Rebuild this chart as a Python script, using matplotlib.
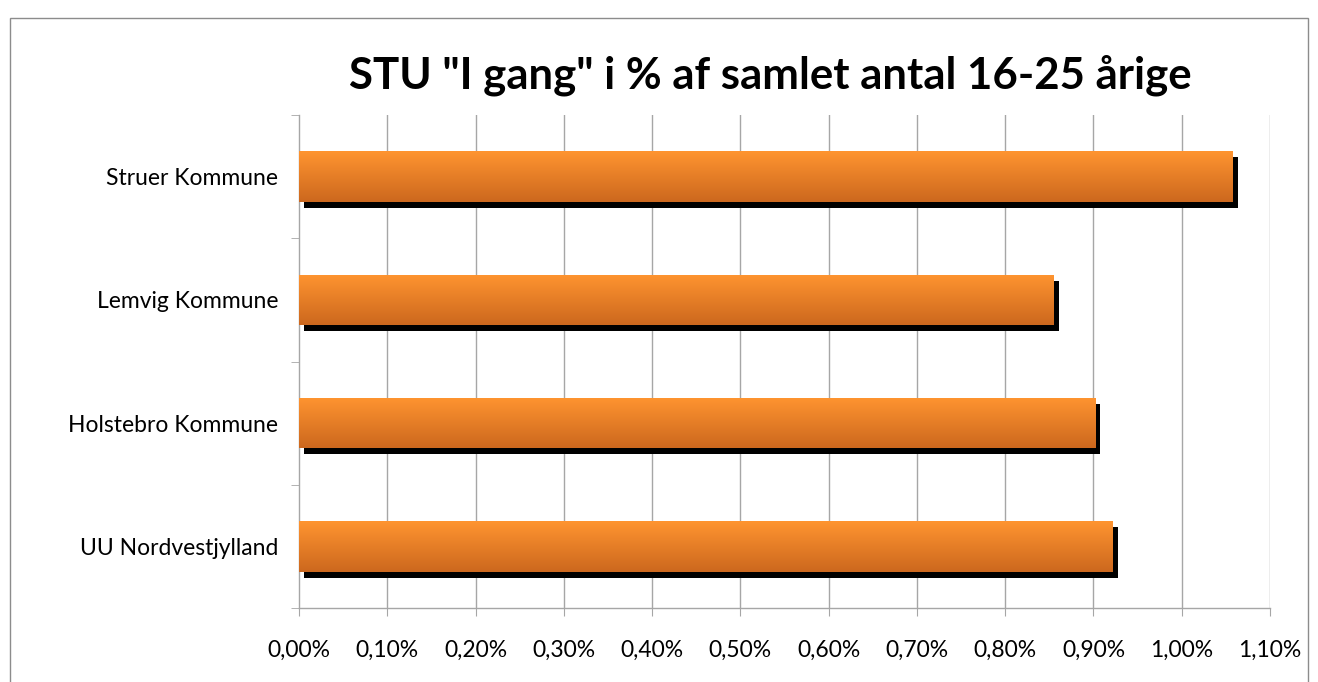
import matplotlib
matplotlib.use("Agg")
import matplotlib.pyplot as plt
import matplotlib.transforms as mtransforms
from matplotlib.patches import Rectangle
import numpy as np

# ---- data ----
categories = ["UU Nordvestjylland", "Holstebro Kommune", "Lemvig Kommune", "Struer Kommune"]
values = [0.922, 0.902, 0.855, 1.058]   # percent
xticks = [0.0, 0.1, 0.2, 0.3, 0.4, 0.5, 0.6, 0.7, 0.8, 0.9, 1.0, 1.1]
xtick_labels = ["0,00%", "0,10%", "0,20%", "0,30%", "0,40%", "0,50%",
                "0,60%", "0,70%", "0,80%", "0,90%", "1,00%", "1,10%"]
title = 'STU "I gang" i % af samlet antal 16-25 årige'

plt.rcParams['font.family'] = ['Lato', 'DejaVu Sans']

W, H = 1318, 682
fig = plt.figure(figsize=(W / 100, H / 100), dpi=100)
fig.patch.set_facecolor("white")

# outer chart border
border = Rectangle((10 / W, -0.05), (1308 - 10) / W, 1 - 18 / H + 0.05,
                   transform=fig.transFigure, fill=False, edgecolor="#8c8c8c",
                   linewidth=1.0)
fig.add_artist(border)

ax = fig.add_axes([299 / W, 1 - 608 / H, (1270 - 299) / W, (608 - 115) / H])
ax.set_xlim(0, 1.1)
ax.set_ylim(-0.5, len(categories) - 0.5)

bar_h = 0.41
ypos = np.arange(len(categories))

# gradient image
top_c = np.array([255, 148, 48]) / 255
bot_c = np.array([204, 104, 30]) / 255
t = np.linspace(0, 1, 64)[:, None]
grad = (top_c[None, :] * (1 - t) + bot_c[None, :] * t)[:, None, :]

shadow_tr = ax.transData + mtransforms.ScaledTranslation(5 / 100, -6 / 100, fig.dpi_scale_trans)

for y, v in zip(ypos, values):
    # shadow
    ax.add_patch(Rectangle((0, y - bar_h / 2), v, bar_h, facecolor="black",
                           edgecolor="none", transform=shadow_tr, zorder=2))
    # gradient bar
    im = ax.imshow(grad, extent=[0, v, y - bar_h / 2, y + bar_h / 2],
                   aspect="auto", origin="upper", zorder=3, interpolation="bilinear")
    clip = Rectangle((0, y - bar_h / 2), v, bar_h, transform=ax.transData,
                     facecolor="none", edgecolor="none")
    ax.add_patch(clip)
    im.set_clip_path(clip)

ax.set_xlim(0, 1.1)
ax.set_ylim(-0.5, len(categories) - 0.5)

# grid
for x in xticks[1:]:
    ax.axvline(x, color="#a6a6a6", linewidth=1.0, zorder=1)

ax.set_xticks(xticks)
ax.set_xticklabels(xtick_labels, fontsize=16.5)
ax.set_yticks(ypos)
ax.set_yticklabels(categories, fontsize=16.5)
ax.tick_params(axis="y", length=0, pad=15)
ax.tick_params(axis="x", length=6, color="#a6a6a6", direction="out", pad=17)

# minor y ticks at category boundaries
ax.set_yticks(np.arange(-0.5, len(categories), 1.0), minor=True)
ax.tick_params(axis="y", which="minor", length=6, color="#a6a6a6", direction="out")

for side in ["top", "right"]:
    ax.spines[side].set_visible(False)
for side in ["left", "bottom"]:
    ax.spines[side].set_color("#a6a6a6")
    ax.spines[side].set_linewidth(1.0)

fig.text(770 / W, 1 - 75 / H, title, ha="center", va="center",
         fontsize=31.5, fontweight="bold")

fig.savefig("out.png", dpi=100, facecolor="white")
